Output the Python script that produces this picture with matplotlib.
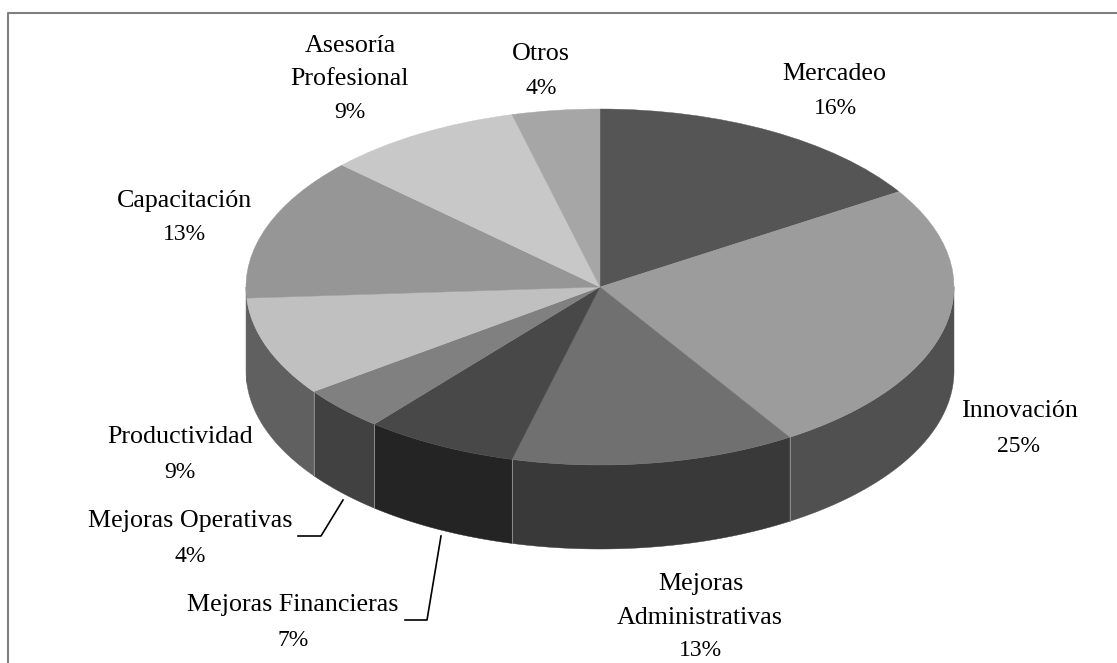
import numpy as np
import matplotlib
matplotlib.use('Agg')
import matplotlib.pyplot as plt
from matplotlib.patches import Polygon

plt.rcParams['font.family'] = 'Liberation Serif'

categories = ['Mercadeo', 'Innovación', 'Mejoras Administrativas', 'Mejoras Financieras',
              'Mejoras Operativas', 'Productividad', 'Capacitación',
              'Asesoría Profesional', 'Otros']
values = [16, 25, 13, 7, 4, 9, 13, 9, 4]
top_colors = ['#555555', '#9c9c9c', '#707070', '#484848', '#808080',
              '#c0c0c0', '#969696', '#c8c8c8', '#a6a6a6']
side_colors = ['#3a3a3a', '#505050', '#393939', '#242424', '#414141',
               '#606060', '#606060', '#6a6a6a', '#5a5a5a']

# label lines, pixel positions of each line centre
label_lines = [
    ('Mercadeo', 834, 72), ('16%', 835, 106),
    ('Innovación', 1019, 409), ('25%', 1018, 444),
    ('Mejoras', 701, 582), ('Administrativas', 700, 616), ('13%', 700, 649),
    ('Mejoras Financieras', 293, 603), ('7%', 293, 638),
    ('Mejoras Operativas', 190, 519), ('4%', 190, 554),
    ('Productividad', 180, 435), ('9%', 180, 470),
    ('Capacitación', 184, 199), ('13%', 184, 233),
    ('Asesoría', 350, 44), ('Profesional', 350, 77), ('9%', 350, 111),
    ('Otros', 541, 52), ('4%', 541, 87),
]

cx, cy, rx, ry, depth = 600, 287, 354, 178, 84

fig = plt.figure(figsize=(11.17, 6.63), dpi=100)

# pie axes: scaled so that the unit circle lands on the ellipse
ax = fig.add_axes([0, 0, 1, 1])
wedges, _ = ax.pie(values, colors=top_colors, startangle=90, counterclock=False, radius=1,
                   wedgeprops=dict(linewidth=0.3, zorder=3))
for w, c in zip(wedges, top_colors):
    w.set_edgecolor(c)
ax.set_aspect('auto')
ax.set_xlim(-cx / rx, (1117 - cx) / rx)
ax.set_ylim((cy - 663) / ry, cy / ry)
ax.axis('off')

# rim of the pie, front half only
d = depth / ry
edges = np.cumsum([0] + values) * 3.6
for i in range(len(values)):
    a0, a1 = max(edges[i], 90), min(edges[i + 1], 270)
    if a1 <= a0:
        continue
    t = np.radians(np.linspace(a0, a1, 80))
    xs, ys = np.sin(t), np.cos(t)
    pts = np.r_[np.c_[xs, ys], np.c_[xs, ys - d][::-1]]
    ax.add_patch(Polygon(pts, closed=True, fc=side_colors[i], ec=side_colors[i], lw=0.3, zorder=1))

# thin seams on the rim
for a in edges[:-1]:
    t = np.radians(a)
    if 90 < a < 266:
        ax.plot([np.sin(t), np.sin(t)], [np.cos(t), np.cos(t) - d], color='#8c8c8c', lw=0.7, zorder=2)

# overlay in pixel coordinates for frame, labels, leaders
ov = fig.add_axes([0, 0, 1, 1], facecolor='none')
ov.set_xlim(0, 1117)
ov.set_ylim(663, 0)
ov.axis('off')
ov.plot([8, 8, 1117], [663, 13, 13], color='#808080', lw=1.5)
ov.plot([343, 321, 298], [500, 536, 536], color='black', lw=1.2)
ov.plot([441, 427, 405], [536, 620, 620], color='black', lw=1.2)
for txt, x, y in label_lines:
    size = 17 if txt.endswith('%') else 18.7
    ov.text(x, y + 2, txt, ha='center', va='center', fontsize=size, color='black')

fig.savefig('out.png', dpi=100)
